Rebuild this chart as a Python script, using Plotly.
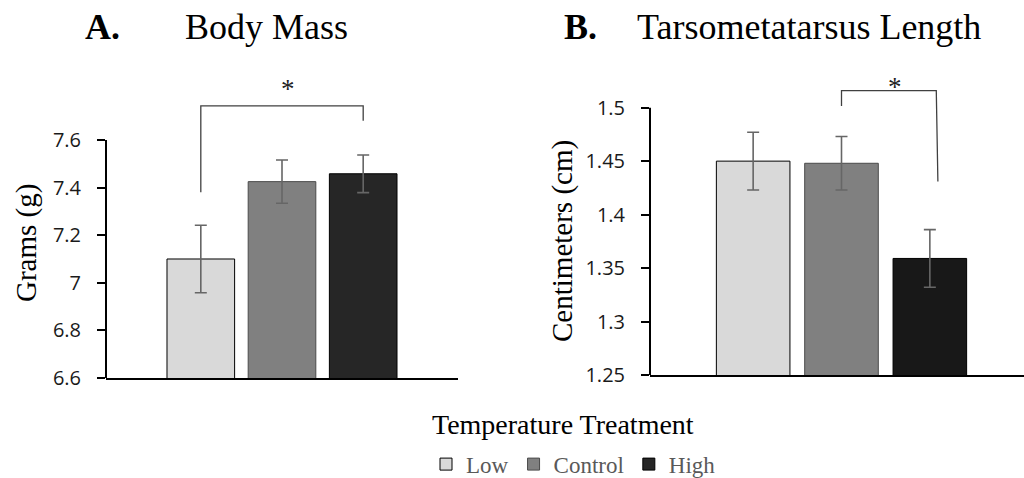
import plotly.graph_objects as go

# ---------------- data ----------------
group_label = ["Temperature Treatment"]
treatments = ["Low", "Control", "High"]

mass_mean = [7.100, 7.425, 7.458]
mass_err = [0.142, 0.091, 0.079]

tarsus_mean = [1.450, 1.448, 1.359]
tarsus_err = [0.027, 0.025, 0.027]

mass_tickvals = [6.6, 6.8, 7.0, 7.2, 7.4, 7.6]
mass_ticktext = ["6.6", "6.8", "7", "7.2", "7.4", "7.6"]
tarsus_tickvals = [1.25, 1.30, 1.35, 1.40, 1.45, 1.50]
tarsus_ticktext = ["1.25", "1.3", "1.35", "1.4", "1.45", "1.5"]

# significance brackets: left group, right group, bracket top, left leg end, right leg end, star height
mass_sig = ("Low", "High", 7.743, 7.380, 7.681, 7.840)
tarsus_sig = ("Control", "High", 1.516, 1.5016, 1.431, 1.525)

# ---------------- style ----------------
W, H = 1024, 478
fills_a = ["#d9d9d9", "#808080", "#262626"]
fills_b = ["#d9d9d9", "#808080", "#181818"]
edges = ["#000000", "#4a4a4a", "#000000"]
SERIF = "Liberation Serif"
SANS = "Open Sans"
BARGAP = 0.308
BARGROUPGAP = 0.167


def px_x(p):
    return p / W


def px_y(p):
    return 1 - p / H


fig = go.Figure()
for i, t in enumerate(treatments):
    fig.add_trace(go.Bar(
        x=group_label, y=[mass_mean[i]], name=t,
        marker=dict(color=fills_a[i], line=dict(color=edges[i], width=1)),
        error_y=dict(type="data", array=[mass_err[i]], color="#666666",
                     thickness=1.6, width=6),
        xaxis="x", yaxis="y", legendgroup=t, showlegend=True,
    ))
for i, t in enumerate(treatments):
    fig.add_trace(go.Bar(
        x=group_label, y=[tarsus_mean[i]], name=t,
        marker=dict(color=fills_b[i], line=dict(color=edges[i], width=1)),
        error_y=dict(type="data", array=[tarsus_err[i]], color="#666666",
                     thickness=1.6, width=6),
        xaxis="x2", yaxis="y2", legendgroup=t, showlegend=False,
    ))

pitch = (1 - BARGAP) / len(treatments)


def center(name):
    return (treatments.index(name) - (len(treatments) - 1) / 2) * pitch


shapes = []
annotations = []


def add_bracket(sig, xr, yr, right_slant=0.0, star_shift=6):
    left, right, top, lbot, rbot, star_y = sig
    x0 = center(left)
    x1 = center(right)
    shapes.append(dict(
        type="path", xref=xr, yref=yr,
        path=f"M {x0},{lbot} L {x0},{top} L {x1 + right_slant * 0.8},{top} L {x1 + right_slant},{rbot}",
        line=dict(color="#404040", width=1.3),
    ))
    annotations.append(dict(
        x=(x0 + x1) / 2, y=star_y, xref=xr, yref=yr, text="*", showarrow=False,
        xanchor="center", yanchor="middle", xshift=star_shift, yshift=-6,
        font=dict(family=SERIF, size=27, color="#222222"),
    ))


add_bracket(mass_sig, "x", "y", star_shift=6)
add_bracket(tarsus_sig, "x2", "y2", right_slant=0.021, star_shift=9)

# y axis lines (stopping at top tick)
shapes.append(dict(type="line", xref="x domain", yref="y", x0=0, x1=0,
                   y0=mass_tickvals[0], y1=mass_tickvals[-1],
                   line=dict(color="black", width=2)))
shapes.append(dict(type="line", xref="x2 domain", yref="y2", x0=0, x1=0,
                   y0=tarsus_tickvals[0], y1=tarsus_tickvals[-1],
                   line=dict(color="black", width=2)))


def label(x, y, text, size, angle=0, anchor="center"):
    return dict(x=px_x(x), y=px_y(y), xref="paper", yref="paper", text=text,
                textangle=angle, showarrow=False, xanchor=anchor, yanchor="middle",
                font=dict(family=SERIF, size=size, color="#000"))


annotations += [
    label(102, 27, "<b>A.</b>", 36),
    label(266.5, 27, "Body Mass", 36),
    label(580, 27, "<b>B.</b>", 36),
    label(808.5, 27, "Tarsometatarsus Length", 36),
    label(26, 243, "Grams (g)", 29, angle=-90),
    label(563, 241, "Centimeters (cm)", 29, angle=-90),
    label(430, 424, "Temperature Treatment", 28, anchor="left"),
]

yaxis_common = dict(
    showline=False, showgrid=False, zeroline=False, ticks="outside",
    ticklen=8, tickwidth=1.5, tickcolor="black", ticklabelstandoff=12,
    tickfont=dict(family=SANS, size=20, color="#1a1a1a"), fixedrange=True,
)
xaxis_common = dict(
    type="category", showline=True, linecolor="black", linewidth=2,
    ticks="", showticklabels=False, showgrid=False, zeroline=False, fixedrange=True,
)

fig.update_layout(
    width=W, height=H,
    font=dict(family=SERIF),
    margin=dict(l=0, r=0, t=0, b=0, autoexpand=False),
    paper_bgcolor="white", plot_bgcolor="white",
    barmode="group", bargap=BARGAP, bargroupgap=BARGROUPGAP,
    xaxis=dict(domain=[px_x(106), px_x(458)], range=[-0.5, 0.5], anchor="y", **xaxis_common),
    yaxis=dict(domain=[px_y(378), px_y(78.1)], range=[6.6, 7.86], anchor="x",
               tickvals=mass_tickvals, ticktext=mass_ticktext, **yaxis_common),
    xaxis2=dict(domain=[px_x(650), 1.0], range=[-0.5, -0.5 + 374 / 383], anchor="y2", **xaxis_common),
    yaxis2=dict(domain=[px_y(375), px_y(75.6)], range=[1.25, 1.53], anchor="x2",
                tickvals=tarsus_tickvals, ticktext=tarsus_ticktext, **yaxis_common),
    shapes=shapes,
    annotations=annotations,
    showlegend=True,
    legend=dict(orientation="h", x=px_x(426), y=-0.016, xanchor="left", yanchor="bottom",
                font=dict(family=SERIF, size=23, color="#595959"),
                bgcolor="rgba(0,0,0,0)", traceorder="normal"),
)

fig.write_html("out.html")
